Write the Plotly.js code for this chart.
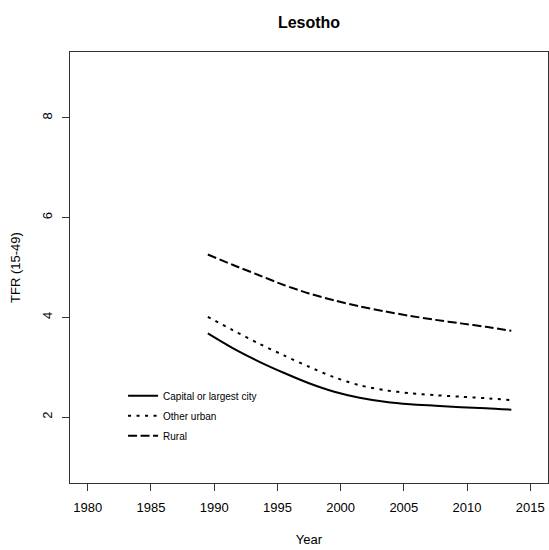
<!DOCTYPE html>
<html>
<head>
<meta charset="utf-8">
<script src="https://cdn.plot.ly/plotly-3.0.1.min.js"></script>
<style>html,body{margin:0;padding:0;background:#fff;}#chart{width:549px;height:550px;}</style>
</head>
<body>
<div id="chart"></div>
<script>
const years = [1989.5, 1991.5, 1993.5, 1995.5, 1997.5, 1999.5, 2001.5, 2003.5, 2005.5, 2007.5, 2009.5, 2011.5, 2013.5];
const capital = [3.68, 3.38, 3.12, 2.89, 2.68, 2.51, 2.39, 2.31, 2.26, 2.23, 2.20, 2.18, 2.15];
const otherUrban = [4.01, 3.74, 3.48, 3.24, 3.01, 2.80, 2.64, 2.54, 2.48, 2.44, 2.41, 2.38, 2.34];
const rural = [5.26, 5.05, 4.85, 4.65, 4.48, 4.34, 4.22, 4.12, 4.03, 3.95, 3.88, 3.81, 3.73];
const seriesNames = ["Capital or largest city", "Other urban", "Rural"];
const xTicks = [1980, 1985, 1990, 1995, 2000, 2005, 2010, 2015];
const yTicks = [2, 4, 6, 8];

const FONT = "Liberation Sans, Arial, sans-serif";
const mk = (y, name, dash, g) => ({
  x: years, y: y, name: name, type: "scatter", mode: "lines", legendgroup: g,
  line: {color: "#000", width: 2, dash: dash, shape: "spline", smoothing: 0.8}
});
const data = [
  mk(capital, seriesNames[0], "solid", "a"),
  mk(otherUrban, seriesNames[1], "3px,5.5px", "b"),
  mk(rural, seriesNames[2], "9px,3.5px", "c")
];
const axisBase = {
  showgrid: false, zeroline: false, showline: true, mirror: true,
  linecolor: "#333", linewidth: 1, ticks: "outside", ticklen: 7, tickcolor: "#333",
  tickfont: {family: FONT, size: 13, color: "#000"}
};
const layout = {
  width: 549, height: 550,
  margin: {l: 70, r: 1, t: 52, b: 67},
  paper_bgcolor: "#fff", plot_bgcolor: "#fff",
  font: {family: FONT, color: "#000"},
  title: {text: "<b>Lesotho</b>", font: {family: FONT, size: 16, color: "#000"},
          xref: "paper", x: 0.5, xanchor: "center", yref: "container", y: 1 - 22/550, yanchor: "middle"},
  xaxis: Object.assign({}, axisBase, {
    range: [1978.6, 2016.4], tickmode: "array", tickvals: xTicks, ticktext: xTicks.map(String),
    ticklabelstandoff: 5,
    title: {text: "Year", font: {family: FONT, size: 13, color: "#000"}, standoff: 21}
  }),
  yaxis: Object.assign({}, axisBase, {
    range: [0.68, 9.32], tickmode: "array", tickvals: yTicks, ticktext: yTicks.map(String),
    tickangle: -90, ticklabelstandoff: 5,
    title: {text: "TFR (15-49)", font: {family: FONT, size: 13, color: "#000"}, standoff: 16}
  }),
  showlegend: true,
  legend: {x: 0.111, xanchor: "left", y: 0.236, yanchor: "top", bgcolor: "rgba(0,0,0,0)",
           borderwidth: 0, tracegroupgap: 1, font: {family: FONT, size: 10, color: "#000"}}
};
Plotly.newPlot("chart", data, layout, {displayModeBar: false, staticPlot: true});
</script>
</body>
</html>
